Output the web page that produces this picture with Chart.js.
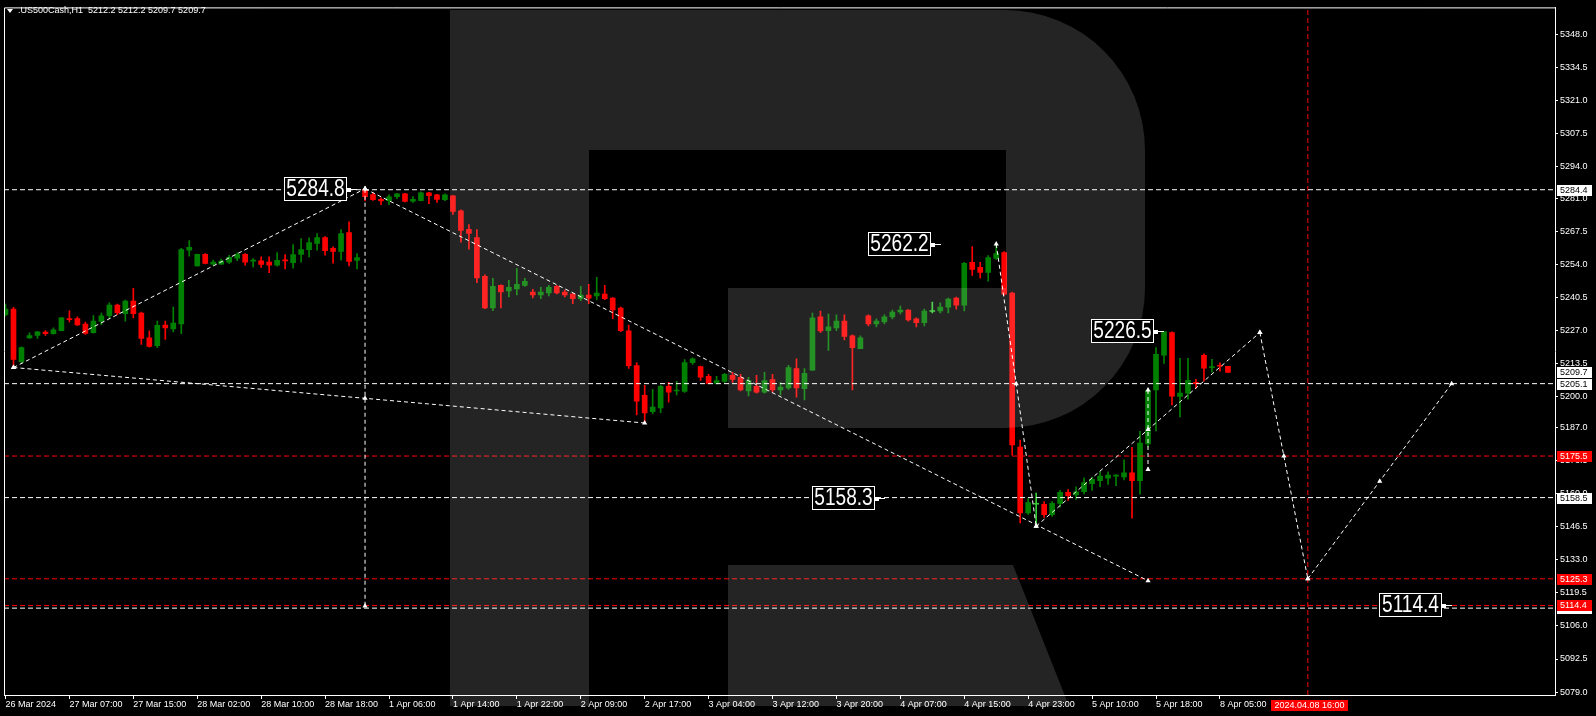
<!DOCTYPE html>
<html>
<head>
<meta charset="utf-8">
<script src="https://cdn.jsdelivr.net/npm/chart.js@4.4.1/dist/chart.umd.min.js"></script>
<style>
  html, body { margin: 0; padding: 0; background: #000; overflow: hidden; }
</style>
</head>
<body>
<canvas id="chart" width="1596" height="716"></canvas>
<script>
// hourly candles, bar index 0 = 26 Mar 2024
const opens = [5233.3,5235.6,5214.1,5223.8,5224.8,5226.2,5225.5,5226.8,5231.7,5231.7,5229.5,5225.9,5230.5,5232.9,5237.2,5233.7,5238.9,5234.0,5223.8,5220.6,
  5229.1,5227.5,5229.5,5259.7,5253.2,5258.0,5254.0,5254.0,5254.8,5256.4,5258.0,5255.2,5255.3,5254.8,5253.5,5255.6,5254.6,5257.9,5259.9,5262.4,
  5264.8,5260.4,5259.2,5266.9,5255.5,5284.6,5282.4,5280.5,5279.9,5281.6,5282.7,5279.7,5279.9,5283.1,5282.3,5280.3,5281.9,5275.8,5268.2,5264.8,
  5249.0,5236.1,5245.3,5243.0,5243.8,5245.3,5242.5,5241.4,5242.2,5244.9,5242.5,5241.7,5239.8,5241.3,5241.0,5241.7,5240.1,5236.0,5226.7,5212.5,
  5200.3,5193.6,5195.2,5204.0,5202.1,5201.9,5213.7,5212.1,5208.1,5205.2,5206.0,5208.5,5207.7,5202.1,5204.0,5201.6,5206.8,5202.5,5203.4,5211.3,
  5203.0,5210.6,5232.4,5226.8,5227.9,5230.7,5224.7,5219.4,5232.8,5229.5,5230.3,5232.4,5234.4,5235.2,5231.6,5230.0,5234.6,5234.8,5236.4,5240.1,
  5237.2,5254.7,5252.7,5250.6,5256.3,5258.7,5242.1,5179.2,5152.2,5155.8,5155.8,5151.5,5156.1,5160.7,5159.6,5160.9,5164.2,5165.4,5166.4,5167.3,
  5167.0,5168.6,5165.4,5180.5,5202.5,5216.7,5226.0,5199.9,5201.2,5205.6,5216.7,5211.6,5212.6,5212.2];
const highs = [5237.6,5236.3,5220.2,5225.9,5226.5,5226.8,5227.9,5232.2,5234.9,5232.4,5230.3,5232.9,5234.0,5238.1,5237.6,5239.3,5244.1,5234.4,5226.7,5230.7,
  5230.7,5236.4,5260.4,5263.6,5258.1,5258.3,5255.6,5256.0,5257.6,5258.6,5258.3,5256.2,5257.0,5257.0,5258.7,5257.9,5262.0,5264.4,5264.7,5266.5,
  5265.2,5261.1,5268.1,5271.3,5258.3,5284.8,5283.1,5281.1,5282.3,5282.9,5282.9,5281.6,5283.5,5283.3,5282.5,5282.7,5282.1,5276.2,5270.1,5268.1,
  5249.6,5248.2,5245.5,5247.4,5252.2,5248.2,5243.7,5244.5,5245.3,5245.3,5243.4,5241.9,5244.9,5245.7,5248.6,5245.3,5240.3,5236.4,5229.1,5213.7,
  5204.4,5202.8,5204.4,5205.6,5206.0,5214.9,5215.7,5212.3,5208.9,5208.1,5209.3,5209.7,5208.9,5207.7,5208.5,5209.7,5208.9,5205.6,5212.6,5215.3,
  5211.3,5234.0,5234.8,5233.6,5233.2,5233.2,5225.1,5224.7,5233.2,5231.6,5233.2,5235.2,5236.8,5235.4,5232.0,5235.6,5238.5,5238.1,5240.1,5240.5,
  5254.7,5261.2,5254.7,5257.5,5262.2,5259.1,5242.5,5182.0,5158.1,5160.3,5156.9,5156.9,5161.5,5161.8,5162.9,5166.6,5166.9,5169.1,5169.0,5167.9,
  5173.9,5179.1,5185.6,5203.2,5219.8,5226.5,5226.3,5215.5,5215.5,5206.9,5217.3,5215.0,5213.6,5212.2];
const lows = [5232.8,5211.7,5213.3,5223.6,5223.6,5224.8,5225.3,5226.7,5230.3,5228.9,5225.2,5225.7,5229.2,5231.7,5233.3,5230.7,5232.0,5221.1,5220.0,5219.8,
  5223.2,5226.3,5225.5,5257.2,5253.1,5254.1,5253.6,5253.9,5254.3,5255.4,5253.6,5252.8,5252.6,5250.5,5253.1,5252.0,5252.3,5254.8,5256.9,5259.7,
  5257.6,5254.4,5255.6,5253.2,5252.0,5279.8,5280.0,5278.3,5278.3,5280.7,5279.4,5279.2,5279.8,5278.7,5279.2,5279.9,5274.3,5263.0,5260.1,5246.4,
  5235.8,5234.9,5236.1,5240.6,5241.4,5244.9,5240.2,5239.8,5241.0,5241.8,5240.6,5237.8,5239.0,5237.8,5239.4,5239.4,5231.7,5226.4,5211.3,5192.3,
  5189.4,5192.8,5193.2,5197.5,5200.5,5201.5,5213.0,5206.4,5205.0,5205.0,5205.6,5205.6,5202.1,5200.1,5201.2,5201.2,5201.6,5200.5,5202.7,5199.6,
  5198.4,5210.5,5225.9,5218.7,5226.8,5223.0,5202.5,5219.4,5228.7,5228.3,5229.5,5231.6,5233.6,5230.7,5228.3,5228.7,5234.0,5234.0,5234.0,5235.6,
  5234.8,5249.4,5248.2,5247.0,5255.9,5241.3,5175.9,5148.1,5151.6,5146.5,5150.4,5150.8,5154.6,5157.4,5157.8,5160.0,5161.4,5163.0,5163.9,5163.4,
  5165.7,5150.1,5159.9,5179.2,5185.8,5213.4,5196.4,5191.5,5198.8,5203.3,5206.1,5209.8,5210.2,5209.7];
const closes = [5235.6,5215.0,5219.8,5224.8,5226.3,5225.5,5227.1,5232.0,5231.3,5229.1,5225.6,5230.7,5232.8,5237.2,5234.0,5238.9,5233.7,5223.6,5220.3,5229.0,
  5227.9,5229.9,5259.9,5260.8,5258.0,5254.3,5254.8,5255.2,5256.8,5258.0,5254.8,5255.6,5253.9,5253.6,5255.5,5255.3,5257.9,5259.9,5262.8,5264.8,
  5259.5,5259.2,5266.5,5255.1,5256.7,5281.6,5280.3,5279.8,5281.5,5282.7,5279.6,5280.5,5283.1,5282.0,5280.4,5282.3,5275.5,5267.8,5266.5,5248.3,
  5236.1,5244.9,5242.6,5244.5,5245.7,5246.9,5241.4,5242.5,5244.5,5242.2,5241.4,5239.8,5241.3,5240.1,5242.1,5239.8,5235.3,5226.8,5212.5,5197.9,
  5193.1,5195.5,5204.0,5201.6,5202.5,5213.7,5215.3,5207.7,5205.2,5206.4,5208.9,5206.8,5202.5,5206.4,5201.6,5206.4,5202.5,5203.7,5211.7,5203.4,
  5209.3,5232.0,5226.7,5228.3,5230.7,5224.4,5219.8,5223.8,5229.5,5230.7,5232.4,5234.4,5235.2,5231.2,5230.0,5234.8,5234.6,5236.4,5239.7,5237.2,
  5254.3,5251.8,5250.6,5256.7,5258.3,5241.7,5180.0,5152.2,5156.5,5155.8,5151.5,5156.2,5160.7,5159.3,5160.9,5164.6,5166.0,5167.3,5167.7,5167.7,
  5168.6,5165.4,5180.8,5202.3,5217.1,5226.4,5200.0,5201.2,5206.5,5205.1,5211.4,5212.1,5212.2,5209.7];

const timeLabels = ['26 Mar 2024','27 Mar 07:00','27 Mar 15:00','28 Mar 02:00','28 Mar 10:00','28 Mar 18:00','1 Apr 06:00',
  '1 Apr 14:00','1 Apr 22:00','2 Apr 09:00','2 Apr 17:00','3 Apr 04:00','3 Apr 12:00','3 Apr 20:00','4 Apr 07:00',
  '4 Apr 15:00','4 Apr 23:00','5 Apr 10:00','5 Apr 18:00','8 Apr 05:00'];
const barsPerLabel = 8;
const priceTicks = [5079.0,5092.5,5106.0,5119.5,5133.0,5146.5,5160.0,5173.5,5187.0,5200.0,5213.5,5227.0,5240.5,
  5254.0,5267.5,5281.0,5294.0,5307.5,5321.0,5334.5,5348.0];

const whiteLevels = [5284.4, 5205.1, 5158.5, 5113.3];
const redLevels = [5175.5, 5125.3, 5114.4];
const lastPrice = 5209.7;
const forecastBar = 163;
const forecastLabel = '2024.04.08 16:00';

// wave drawing: [bar, price]
const waveUp1 = [[1, 5211.7], [45, 5284.8]];
const waveBase = [[1, 5211.7], [45, 5199.1], [80, 5189.0]];
const waveDrop = [[45, 5284.8], [143, 5124.5]];
const waveStem = [[45, 5284.8], [45, 5114.2]];
const waveFall = [[124, 5262.2], [126.5, 5205.1], [129, 5146.8]];
const waveRise = [[129, 5146.8], [143, 5186.3], [157, 5226.0]];
const waveStem2 = [[143, 5202.5], [143, 5170.0]];
const waveNext1 = [[157, 5226.0], [160, 5175.5], [163, 5125.3]];
const waveNext2 = [[163, 5125.3], [172, 5165.2], [181, 5205.1]];
const waves = [waveUp1, waveBase, waveDrop, waveStem, waveFall, waveRise, waveStem2, waveNext1, waveNext2];

const noteValues = [5284.8, 5262.2, 5226.5, 5158.3, 5114.4];
const noteBars = [42.7, 115.8, 143.8, 108.8, 179.8];

const X_MIN = -0.1875, X_MAX = X_MIN + 1553 / 8;
const Y_MIN = 5077.78, Y_MAX = 5358.96;
const GREEN = 'rgb(0,128,0)', RED = 'rgb(255,0,0)', DOJI = 'rgb(50,205,50)';
const FONT = '"Liberation Sans", Arial, sans-serif';

function candleColor(i) {
  if (closes[i] > opens[i]) return GREEN;
  if (closes[i] < opens[i]) return RED;
  return DOJI;
}

function lineSet(points, color, dash, radius) {
  return {
    type: 'line',
    data: points.map(p => ({ x: p[0], y: p[1] })),
    borderColor: color,
    borderWidth: 1,
    borderDash: dash,
    pointRadius: radius,
    pointStyle: 'triangle',
    pointBackgroundColor: '#fff',
    pointBorderWidth: 0,
    tension: 0,
    order: 0
  };
}

const datasets = [];
waves.forEach(w => datasets.push(lineSet(w, '#fff', [4, 3], 3)));
whiteLevels.forEach(v => datasets.push(lineSet([[X_MIN, v], [X_MAX, v]], '#fff', [5, 3], 0)));
redLevels.forEach(v => datasets.push(lineSet([[X_MIN, v], [X_MAX, v]], RED, [5, 3], 0)));
datasets.push(lineSet([[forecastBar, Y_MIN], [forecastBar, Y_MAX]], RED, [5, 3], 0));
datasets.push({
  type: 'bar',
  data: opens.map((o, i) => ({ x: i, y: [opens[i], closes[i]] })),
  backgroundColor: opens.map((o, i) => candleColor(i)),
  barThickness: 5, minBarLength: 1, grouped: false, order: 1
});
datasets.push({
  type: 'bar',
  data: opens.map((o, i) => ({ x: i, y: [lows[i], highs[i]] })),
  backgroundColor: opens.map((o, i) => candleColor(i)),
  barThickness: 1, grouped: false, order: 2
});

function drawWatermark(ctx) {
  ctx.save();
  ctx.fillStyle = 'rgba(255,255,255,0.14)';
  ctx.beginPath();
  ctx.moveTo(450, 706);
  ctx.lineTo(450, 10);
  ctx.lineTo(1005, 10);
  ctx.arc(1005, 150, 140, -Math.PI / 2, 0);
  ctx.lineTo(1145, 288);
  ctx.arc(1005, 288, 140, 0, Math.PI / 2);
  ctx.lineTo(728, 428);
  ctx.lineTo(728, 288);
  ctx.lineTo(1006, 288);
  ctx.lineTo(1006, 150);
  ctx.lineTo(589, 150);
  ctx.lineTo(589, 706);
  ctx.closePath();
  ctx.moveTo(728, 565);
  ctx.lineTo(1013, 565);
  ctx.lineTo(1069, 706);
  ctx.lineTo(728, 706);
  ctx.closePath();
  ctx.fill();
  ctx.restore();
}

function axisBox(ctx, y, bg, fg, text) {
  ctx.fillStyle = bg;
  ctx.fillRect(1557, Math.round(y) - 5, 35, 11);
  ctx.fillStyle = fg;
  ctx.font = '9px ' + FONT;
  ctx.textAlign = 'left';
  ctx.textBaseline = 'middle';
  ctx.fillText(text, 1560, Math.round(y) + 1);
}

const decor = {
  id: 'decor',
  beforeDraw(chart) {
    const ctx = chart.ctx;
    ctx.save();
    ctx.fillStyle = '#000';
    ctx.fillRect(0, 0, chart.width, chart.height);
    ctx.restore();
  },
  afterDatasetsDraw(chart) {
    drawWatermark(chart.ctx);
  },
  afterDraw(chart) {
    const ctx = chart.ctx, a = chart.chartArea;
    const xs = chart.scales.x, ys = chart.scales.y;
    ctx.save();
    // frame
    ctx.strokeStyle = '#fff';
    ctx.lineWidth = 1;
    ctx.beginPath();
    ctx.moveTo(a.left + 0.5, a.bottom);
    ctx.lineTo(a.left + 0.5, a.top + 0.5);
    ctx.lineTo(a.right, a.top + 0.5);
    ctx.stroke();

    // title
    ctx.fillStyle = '#fff';
    ctx.beginPath();
    ctx.moveTo(7, 9); ctx.lineTo(13, 9); ctx.lineTo(10, 13); ctx.closePath();
    ctx.fill();
    ctx.font = '9px ' + FONT;
    ctx.textBaseline = 'middle';
    ctx.textAlign = 'left';
    const n = opens.length - 1;
    ctx.fillText('.US500Cash,H1  ' + [opens[n], highs[n], lows[n], closes[n]].map(v => v.toFixed(1)).join(' '), 18, 11);

    // price boxes on the axis
    whiteLevels.forEach(v => axisBox(ctx, ys.getPixelForValue(v), '#fff', '#000', v.toFixed(1)));
    axisBox(ctx, ys.getPixelForValue(lastPrice), '#fff', '#000', lastPrice.toFixed(1));
    redLevels.forEach(v => axisBox(ctx, ys.getPixelForValue(v), RED, '#fff', v.toFixed(1)));

    // time box
    const fx = xs.getPixelForValue(forecastBar);
    ctx.fillStyle = RED;
    ctx.fillRect(Math.round(fx) - 37, 700, 77, 11);
    ctx.fillStyle = '#fff';
    ctx.textAlign = 'center';
    ctx.fillText(forecastLabel, Math.round(fx) + 1.5, 706);

    // price notes
    noteValues.forEach((v, k) => {
      const xr = Math.round(xs.getPixelForValue(noteBars[k]));
      const y = Math.round(ys.getPixelForValue(v));
      const w = 63, h = 24;
      ctx.fillStyle = '#000';
      ctx.fillRect(xr - w, y - h / 2, w, h);
      ctx.strokeStyle = '#fff';
      ctx.lineWidth = 1;
      ctx.strokeRect(xr - w + 0.5, y - h / 2 + 0.5, w - 1, h - 1);
      ctx.beginPath();
      ctx.moveTo(xr, y + 0.5);
      ctx.lineTo(xr + 10, y + 0.5);
      ctx.stroke();
      ctx.fillStyle = '#fff';
      ctx.fillRect(xr, y - 1, 4, 4);
      ctx.save();
      ctx.translate(xr - w / 2, y + 1);
      ctx.scale(0.83, 1);
      ctx.font = '23px ' + FONT;
      ctx.textAlign = 'center';
      ctx.textBaseline = 'middle';
      ctx.fillText(v.toFixed(1), 0, 0);
      ctx.restore();
    });
    ctx.restore();
  }
};

new Chart(document.getElementById('chart'), {
  data: { datasets: datasets },
  options: {
    responsive: false,
    animation: false,
    events: [],
    layout: { padding: { left: 2, top: 2, right: 0, bottom: 0 } },
    plugins: { legend: { display: false }, tooltip: { enabled: false } },
    scales: {
      x: {
        type: 'linear',
        position: 'bottom',
        offset: false,
        min: X_MIN,
        max: X_MAX,
        afterBuildTicks: s => { s.ticks = timeLabels.map((t, k) => ({ value: k * barsPerLabel })); },
        afterFit: s => { s.height = 21; },
        ticks: {
          autoSkip: false,
          maxRotation: 0,
          align: 'start',
          padding: 0,
          color: '#fff',
          font: { family: FONT, size: 9 },
          callback: v => timeLabels[Math.round(v / barsPerLabel)]
        },
        grid: { offset: false, drawOnChartArea: false, tickLength: 4, color: '#fff' },
        border: { color: '#fff' }
      },
      y: {
        type: 'linear',
        position: 'right',
        min: Y_MIN,
        max: Y_MAX,
        afterBuildTicks: s => { s.ticks = priceTicks.map(v => ({ value: v })); },
        afterFit: s => { s.width = 41; },
        ticks: {
          padding: 2,
          color: '#fff',
          font: { family: FONT, size: 9 },
          callback: v => v.toFixed(1)
        },
        grid: { drawOnChartArea: false, tickLength: 3, color: '#fff' },
        border: { color: '#fff' }
      }
    }
  },
  plugins: [decor]
});
</script>
</body>
</html>
